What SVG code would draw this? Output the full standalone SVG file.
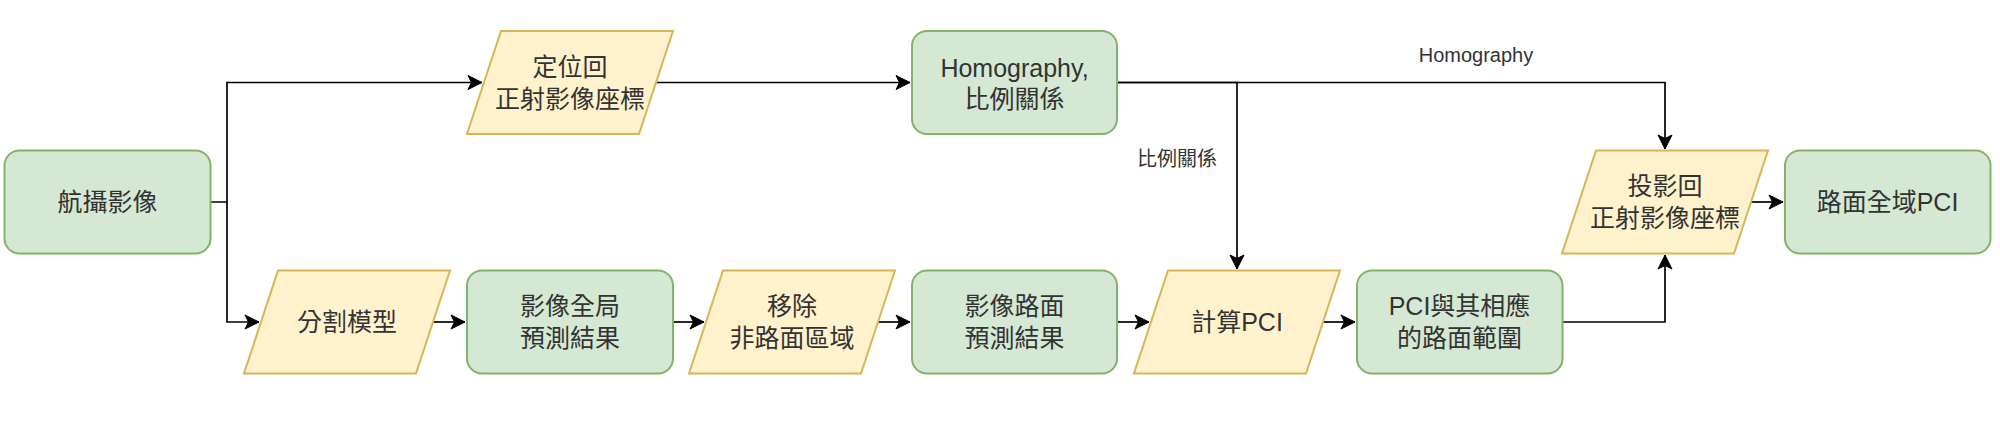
<svg xmlns="http://www.w3.org/2000/svg" width="2000" height="424" viewBox="0 0 2000 424">
  <style>
    .proc { fill: #d5e8d4; stroke: #82b366; stroke-width: 2; }
    .data { fill: #fff2cc; stroke: #d6b656; stroke-width: 2; }
    .t { font-family: "Liberation Sans", "Noto Sans CJK TC", sans-serif; font-size: 25px; fill: #333333; text-anchor: middle; dominant-baseline: central; }
    .lbl { font-family: "Liberation Sans", "Noto Sans CJK TC", sans-serif; font-size: 20px; fill: #333333; text-anchor: middle; dominant-baseline: central; }
    .edge { fill: none; stroke: #000000; stroke-width: 1.7; }
  </style>
  <defs>
    <marker id="arrow" markerUnits="userSpaceOnUse" markerWidth="16" markerHeight="16" viewBox="-15 -8 16 16" refX="0" refY="0" orient="auto">
      <path d="M0,0 L-14,-7 L-10.5,0 L-14,7 Z" fill="#000000" stroke="#000000" stroke-width="1"/>
    </marker>
  </defs>
  <rect width="2000" height="424" fill="#ffffff"/>

  <g id="connectors">
    <path class="edge" d="M210.5,202 H227 V82.5 H482" marker-end="url(#arrow)"/>
    <path class="edge" d="M227,202 V322 H259" marker-end="url(#arrow)"/>
    <path class="edge" d="M433,322 H465" marker-end="url(#arrow)"/>
    <path class="edge" d="M673,322 H704" marker-end="url(#arrow)"/>
    <path class="edge" d="M878,322 H910" marker-end="url(#arrow)"/>
    <path class="edge" d="M1117,322 H1149" marker-end="url(#arrow)"/>
    <path class="edge" d="M1323,322 H1355" marker-end="url(#arrow)"/>
    <path class="edge" d="M656,82.5 H910" marker-end="url(#arrow)"/>
    <path class="edge" d="M1117,82.5 H1665 V149" marker-end="url(#arrow)"/>
    <path class="edge" d="M1117,82.5 H1237 V269" marker-end="url(#arrow)"/>
    <path class="edge" d="M1562.5,322 H1665 V255" marker-end="url(#arrow)"/>
    <path class="edge" d="M1751,202 H1783" marker-end="url(#arrow)"/>
    <text class="lbl" x="1476" y="55">Homography</text>
    <text class="lbl" x="1177" y="159">比例關係</text>
  </g>

  <g id="n-aerial">
    <rect class="proc" x="4.5" y="150.5" width="206" height="103" rx="15" ry="15"/>
    <text class="t" x="107.5" y="202">航攝影像</text>
  </g>
  <g id="n-locate">
    <polygon class="data" points="501,31 673,31 639,134 467,134"/>
    <text class="t" x="570" y="66.5">定位回</text>
    <text class="t" x="570" y="98.5">正射影像座標</text>
  </g>
  <g id="n-homography">
    <rect class="proc" x="912" y="31" width="205" height="103" rx="15" ry="15"/>
    <text class="t" x="1014.5" y="67.5">Homography,</text>
    <text class="t" x="1014.5" y="99">比例關係</text>
  </g>
  <g id="n-segmodel">
    <polygon class="data" points="278,270.5 450,270.5 416,373.5 244,373.5"/>
    <text class="t" x="347" y="322">分割模型</text>
  </g>
  <g id="n-globalpred">
    <rect class="proc" x="467" y="270.5" width="206" height="103" rx="15" ry="15"/>
    <text class="t" x="570" y="306">影像全局</text>
    <text class="t" x="570" y="338">預測結果</text>
  </g>
  <g id="n-remove">
    <polygon class="data" points="723,270.5 895,270.5 861,373.5 689,373.5"/>
    <text class="t" x="792" y="306">移除</text>
    <text class="t" x="792" y="338">非路面區域</text>
  </g>
  <g id="n-roadpred">
    <rect class="proc" x="912" y="270.5" width="205" height="103" rx="15" ry="15"/>
    <text class="t" x="1014.5" y="306">影像路面</text>
    <text class="t" x="1014.5" y="338">預測結果</text>
  </g>
  <g id="n-calcpci">
    <polygon class="data" points="1168,270.5 1340,270.5 1306,373.5 1134,373.5"/>
    <text class="t" x="1237" y="322">計算PCI</text>
  </g>
  <g id="n-pcirange">
    <rect class="proc" x="1357" y="270.5" width="205.5" height="103" rx="15" ry="15"/>
    <text class="t" x="1459.5" y="306">PCI與其相應</text>
    <text class="t" x="1459.5" y="338">的路面範圍</text>
  </g>
  <g id="n-project">
    <polygon class="data" points="1596,150.5 1768,150.5 1734,253.5 1562,253.5"/>
    <text class="t" x="1665" y="186">投影回</text>
    <text class="t" x="1665" y="218">正射影像座標</text>
  </g>
  <g id="n-globalpci">
    <rect class="proc" x="1785" y="150.5" width="205.5" height="103" rx="15" ry="15"/>
    <text class="t" x="1887.5" y="202">路面全域PCI</text>
  </g>
</svg>
